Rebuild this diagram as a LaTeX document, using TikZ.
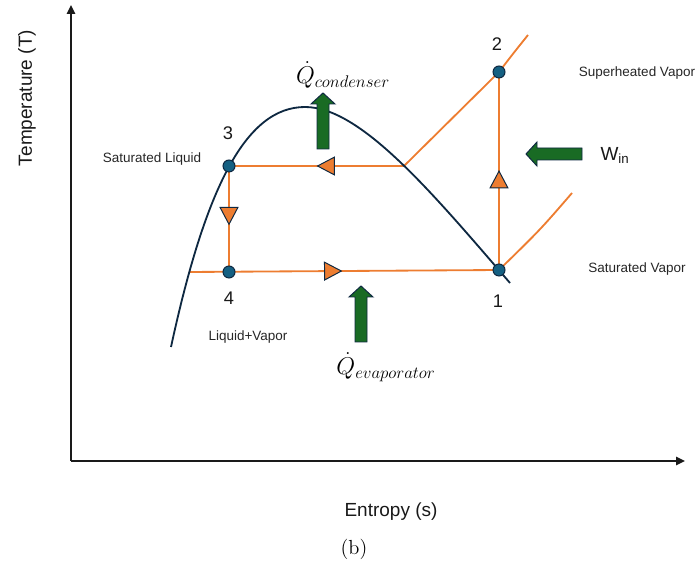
\documentclass[tikz,border=0pt]{standalone}
\usepackage{fontspec}
\newfontfamily\labelfont{Liberation Sans}
\usetikzlibrary{arrows.meta}
\usetikzlibrary{decorations.markings}
\usetikzlibrary{backgrounds}
\definecolor{line-orange}{HTML}{ED7D31}
\definecolor{dome-navy}{HTML}{0E2841}
\definecolor{state-blue}{HTML}{156082}
\definecolor{heat-green}{HTML}{196B24}
\definecolor{axis-black}{HTML}{1A1A1A}

\tikzset{
  state/.style={circle, fill=state-blue, draw=dome-navy, line width=0.7pt, minimum size=3mm, inner sep=0pt},
  process/.style={color=line-orange, line width=1.3pt},
  flowmark/.style={postaction={decorate}, decoration={markings,
      mark=at position #1 with {\arrow[dome-navy, line width=0.7pt]{Triangle[length=4.6mm, width=4.8mm, fill=line-orange]}}}},
  region/.style={font=\labelfont\fontsize{9.6}{11}\selectfont, text=black!85},
  number/.style={font=\labelfont\fontsize{13}{15}\selectfont, text=black!90},
  axislabel/.style={font=\labelfont\fontsize{13.5}{16}\selectfont, text=black!90},
  heatlabel/.style={font=\fontsize{17}{20}\selectfont},
  heat/.pic={\draw[fill=heat-green, draw=dome-navy, line width=0.7pt]
      (0,-6) -- (45,-6) -- (45,-12) -- (56,0) -- (45,12) -- (45,6) -- (0,6) -- cycle;}
}

\begin{document}
\begin{tikzpicture}[x=0.025cm, y=-0.025cm]
    \useasboundingbox (0,0) rectangle (699,564);

    % axes
    \coordinate (origin) at (71,461);
    \coordinate (T top) at (71,5);
    \coordinate (s end) at (685,461);
    \draw[axis-black, line width=1.4pt, -{Triangle[length=2.2mm, width=2mm]}] (origin) -- (T top);
    \draw[axis-black, line width=1.4pt, -{Triangle[length=2.2mm, width=2mm]}] (origin) -- (s end);

    \node[axislabel, rotate=90] (T label) at (27,98) {Temperature (T)};
    \node[axislabel] (s label) at (391,512) {Entropy (s)};
    \node[font=\fontsize{14.5}{16}\selectfont] (caption) at (354,549) {(b)};

    % saturation dome
    \draw[dome-navy, line width=1.3pt] (171,347) .. controls (205,190) and (245,107) .. (305,107)
        .. controls (360,107) and (430,190) .. (510,283);

    % states
    \node[state] (p1) at (499,270) {};
    \node[state] (p2) at (499,72) {};
    \node[state] (p3) at (229,166) {};
    \node[state] (p4) at (229,272) {};
    \coordinate (junction) at (404,166);
    \coordinate (liq start) at (189,272);
    \coordinate (sh end) at (528,35);
    \coordinate (sv end) at (572,193);

    \begin{scope}[on background layer]
        \draw[process, flowmark=0.56] (p3.center) -- (p4.center);
        \draw[process, flowmark=0.495] (liq start) -- (p1.center);
        \draw[process, flowmark=0.505] (p1.center) -- (p2.center);
        \draw[process, flowmark=0.5] (junction) -- (p3.center);
        \draw[process] (junction) -- (p2.center) .. controls (512,55) .. (sh end);
        \draw[process] (p1.center) .. controls (540,230) .. (sv end);
    \end{scope}

    \node[number] (n1) at (498,301) {1};
    \node[number] (n2) at (497,44) {2};
    \node[number] (n3) at (228,133) {3};
    \node[number] (n4) at (229,298) {4};

    \node[region] (superheated) at (637,73) {Superheated Vapor};
    \node[region] (sat vapor) at (637,269) {Saturated Vapor};
    \node[region] (sat liquid) at (152,159) {Saturated Liquid};
    \node[region] (mixture) at (248,337) {Liquid+Vapor};

    % heat and work
    \pic[rotate=90] at (323,149) {heat};
    \pic[rotate=90] at (361,342) {heat};
    \pic[rotate=180] at (582,154) {heat};

    \node[heatlabel] (Q cond) at (343,75) {$\dot{Q}_{condenser}$};
    \node[heatlabel] (Q evap) at (386,367) {$\dot{Q}_{evaporator}$};
    \node[number, font=\labelfont\fontsize{13.5}{15}\selectfont] (W in) at (615,155) {W\textsubscript{in}};

\end{tikzpicture}
\end{document}
